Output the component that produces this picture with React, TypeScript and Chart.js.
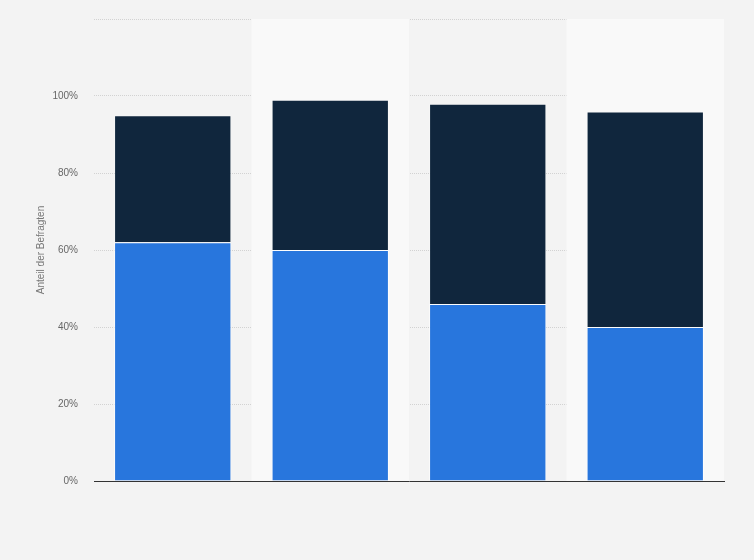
import React, { useEffect, useRef } from "react";
import { Chart, registerables } from "chart.js";

Chart.register(...registerables);

const categories = ["A", "B", "C", "D"];
const seriesBlue = [62, 60, 46, 40];
const seriesDark = [33, 39, 52, 56];
const yTicks = [0, 20, 40, 60, 80, 100, 120];

const bandPlugin = {
  id: "bands",
  beforeDatasetsDraw(chart: any) {
    const { ctx, chartArea, scales } = chart;
    const x = scales.x;
    ctx.save();
    ctx.fillStyle = "#f9f9f9";
    categories.forEach((_, i) => {
      if (i % 2 === 1) {
        const c = x.getPixelForValue(i);
        const half = (x.getPixelForValue(1) - x.getPixelForValue(0)) / 2;
        ctx.fillRect(c - half, chartArea.top, half * 2, chartArea.bottom - chartArea.top);
      }
    });
    ctx.restore();
  },
};

export default function App() {
  const ref = useRef<HTMLCanvasElement>(null);
  useEffect(() => {
    document.body.style.margin = "0";
    const chart = new Chart(ref.current!, {
      type: "bar",
      data: {
        labels: categories,
        datasets: [
          {
            data: seriesBlue,
            backgroundColor: "#2876dd",
            borderColor: "rgba(255,255,255,0.7)",
            borderWidth: 1,
            categoryPercentage: 0.745,
            barPercentage: 1,
          },
          {
            data: seriesDark,
            backgroundColor: "#10263d",
            borderColor: "rgba(255,255,255,0.25)",
            borderWidth: 1,
            categoryPercentage: 0.745,
            barPercentage: 1,
          },
        ],
      },
      options: {
        animation: false,
        responsive: false,
        layout: { padding: { left: 35, right: 30, top: 19, bottom: 79 } },
        plugins: { legend: { display: false }, tooltip: { enabled: false } },
        scales: {
          x: {
            stacked: true,
            ticks: { display: false },
            grid: { display: false },
            border: { display: true, color: "#333333", width: 1 },
            afterFit(s: any) {
              s.height = 0;
            },
          },
          y: {
            stacked: true,
            min: 0,
            max: 120,
            afterBuildTicks(s: any) {
              s.ticks = yTicks.map((v) => ({ value: v }));
            },
            ticks: {
              padding: 16,
              color: "#666666",
              font: { family: "Arial, 'Liberation Sans', sans-serif", size: 10 },
              callback: (v: any) => (v === 120 ? "" : v + "%"),
            },
            grid: { color: "#d2d2d2", drawTicks: false, lineWidth: 1 },
            border: { display: false, dash: [1, 1] },
            title: {
              display: true,
              text: "Anteil der Befragten",
              color: "#777777",
              font: { family: "Arial, 'Liberation Sans', sans-serif", size: 10 },
              padding: { top: 0, bottom: 0 },
            },
            afterFit(s: any) {
              s.width = 59;
              s.paddingTop = 0;
              s.paddingBottom = 0;
            },
          },
        },
      },
      plugins: [bandPlugin],
    });
    return () => chart.destroy();
  }, []);
  return (
    <div style={{ position: "absolute", left: 0, top: 0, width: 754, height: 560, background: "#f3f3f3" }}>
      <canvas ref={ref} width={754} height={560} />
    </div>
  );
}
